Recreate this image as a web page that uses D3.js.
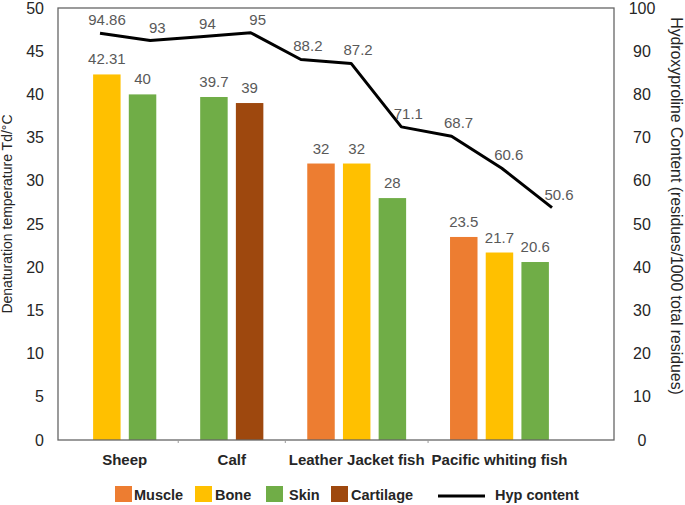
<!DOCTYPE html>
<html>
<head>
<meta charset="utf-8">
<script src="https://cdn.jsdelivr.net/npm/d3@7"></script>
<style>
  html, body { margin: 0; padding: 0; background: #fff; }
  svg { display: block; font-family: "Liberation Sans", Arial, sans-serif; }
</style>
</head>
<body>
<svg id="chart" width="685" height="505"></svg>
<script>
// ---------------- data ----------------
const categories = ["Sheep", "Calf", "Leather Jacket fish", "Pacific whiting fish"];
const seriesNames = ["Muscle", "Bone", "Skin", "Cartilage"];
const muscle    = [null, null, 32, 23.5];
const bone      = [42.31, null, 32, 21.7];
const skin      = [40, 39.7, 28, 20.6];
const cartilage = [null, 39, null, null];
const hypLabels = ["94.86", "93", "94", "95", "88.2", "87.2", "71.1", "68.7", "60.6", "50.6"];
const hypValues = [94.86, 93, 94, 95, 88.2, 87.2, 71.1, 68.7, 60.6, 50.6];
const leftTicks  = [0, 5, 10, 15, 20, 25, 30, 35, 40, 45, 50];
const rightTicks = [0, 10, 20, 30, 40, 50, 60, 70, 80, 90, 100];

const colors = { Muscle: "#ED7D31", Bone: "#FFC000", Skin: "#70AD47", Cartilage: "#9E480E" };

// ---------------- layout ----------------
const W = 685, H = 505;
const plot = { left: 58, right: 614, top: 8, bottom: 440 };
const svg = d3.select("#chart");

const seriesData = { Muscle: muscle, Bone: bone, Skin: skin, Cartilage: cartilage };

// build bar slots (bars present in each group, plus a spacer slot between groups)
const bars = [];
const slots = [];
const groupSlots = {};
categories.forEach((c, gi) => {
  groupSlots[c] = [];
  seriesNames.forEach(s => {
    const v = seriesData[s][gi];
    if (v !== null && v !== undefined) {
      const key = c + "|" + s;
      slots.push(key);
      groupSlots[c].push(key);
      bars.push({ key, cat: c, series: s, value: v });
    }
  });
  if (gi < categories.length - 1) slots.push("gap" + gi);
});

const x = d3.scaleBand()
  .domain(slots)
  .range([89, 553])
  .paddingInner(0.23)
  .paddingOuter(0.115);

const y = d3.scaleLinear().domain([0, 50]).range([plot.bottom, plot.top]);
const yR = d3.scaleLinear().domain([0, 100]).range([plot.bottom, plot.top]);
// the Hyp line in the reference sits on its own (slightly shifted) scale
const yHyp = d3.scaleLinear().domain([0, 100]).range([407, 13]);
const xLine = d3.scalePoint().domain(d3.range(hypValues.length)).range([100, 552]);

// ---------------- bars ----------------
svg.append("g").selectAll("rect").data(bars).join("rect")
  .attr("x", d => x(d.key))
  .attr("width", x.bandwidth())
  .attr("y", d => y(d.value))
  .attr("height", d => y(0) - y(d.value))
  .attr("fill", d => colors[d.series]);

svg.append("g").selectAll("text").data(bars).join("text")
  .attr("x", d => x(d.key) + x.bandwidth() / 2)
  .attr("y", d => y(d.value) - 10)
  .attr("text-anchor", "middle")
  .attr("font-size", 15)
  .attr("fill", "#595959")
  .text(d => d.value);

// ---------------- frame ----------------
svg.append("rect")
  .attr("x", plot.left).attr("y", plot.top)
  .attr("width", plot.right - plot.left).attr("height", plot.bottom - plot.top)
  .attr("fill", "none").attr("stroke", "#666").attr("stroke-width", 1.3);

// small x ticks at group separators
svg.append("g").selectAll("line").data(slots.filter(s => s.startsWith("gap"))).join("line")
  .attr("x1", d => x(d) + x.bandwidth() / 2).attr("x2", d => x(d) + x.bandwidth() / 2)
  .attr("y1", plot.bottom).attr("y2", plot.bottom + 3)
  .attr("stroke", "#999").attr("stroke-width", 1);

// ---------------- axes ----------------
const gL = svg.append("g").attr("transform", `translate(${plot.left},0)`)
  .call(d3.axisLeft(y).tickValues(leftTicks).tickSize(0).tickPadding(14));
gL.select(".domain").remove();
gL.selectAll("text").attr("font-size", 16).attr("fill", "#262626")
  .attr("font-family", "Liberation Sans, Arial, sans-serif");

const gR = svg.append("g").attr("transform", `translate(${plot.right},0)`)
  .call(d3.axisRight(yR).tickValues(rightTicks).tickSize(0).tickPadding(28));
gR.select(".domain").remove();
gR.selectAll("text").attr("font-size", 16).attr("fill", "#262626")
  .attr("text-anchor", "middle")
  .attr("font-family", "Liberation Sans, Arial, sans-serif");

// axis titles
svg.append("text")
  .attr("transform", `translate(12,214) rotate(-90)`)
  .attr("text-anchor", "middle")
  .attr("font-size", 14)
  .attr("fill", "#262626")
  .text("Denaturation temperature Td/°C");

svg.append("text")
  .attr("transform", `translate(671,206) rotate(90)`)
  .attr("text-anchor", "middle")
  .attr("font-size", 15.8)
  .attr("fill", "#262626")
  .text("Hydroxyproline Content (residues/1000 total residues)");

// category labels
svg.append("g").selectAll("text").data(categories).join("text")
  .attr("x", c => {
    const ks = groupSlots[c];
    return (x(ks[0]) + x(ks[ks.length - 1]) + x.bandwidth()) / 2;
  })
  .attr("y", 465)
  .attr("text-anchor", "middle")
  .attr("font-size", 15)
  .attr("font-weight", "bold")
  .attr("fill", "#262626")
  .text(c => c);

// ---------------- line ----------------
const line = d3.line().x((d, i) => xLine(i)).y(d => yHyp(d));
svg.append("path")
  .datum(hypValues)
  .attr("d", line)
  .attr("fill", "none")
  .attr("stroke", "#000")
  .attr("stroke-width", 3)
  .attr("stroke-linejoin", "round");

svg.append("g").selectAll("text").data(hypValues).join("text")
  .attr("x", (d, i) => xLine(i) + 7)
  .attr("y", d => yHyp(d) - 8)
  .attr("text-anchor", "middle")
  .attr("font-size", 15)
  .attr("fill", "#595959")
  .text((d, i) => hypLabels[i]);

// ---------------- legend ----------------
const legendItems = [
  { name: "Muscle", x: 115, tx: 134 },
  { name: "Bone", x: 195, tx: 215 },
  { name: "Skin", x: 266, tx: 289 },
  { name: "Cartilage", x: 331, tx: 351 }
];
const lg = svg.append("g");
lg.selectAll("rect").data(legendItems).join("rect")
  .attr("x", d => d.x).attr("y", 486).attr("width", 17).attr("height", 16)
  .attr("fill", d => colors[d.name]);
lg.selectAll("text").data(legendItems).join("text")
  .attr("x", d => d.tx).attr("y", 500)
  .attr("font-size", 14.5).attr("font-weight", "bold").attr("fill", "#262626")
  .text(d => d.name);
lg.append("line").attr("x1", 438).attr("x2", 485).attr("y1", 496).attr("y2", 496)
  .attr("stroke", "#000").attr("stroke-width", 3);
lg.append("text").attr("x", 495).attr("y", 500)
  .attr("font-size", 14.5).attr("font-weight", "bold").attr("fill", "#262626")
  .text("Hyp content");
</script>
</body>
</html>
